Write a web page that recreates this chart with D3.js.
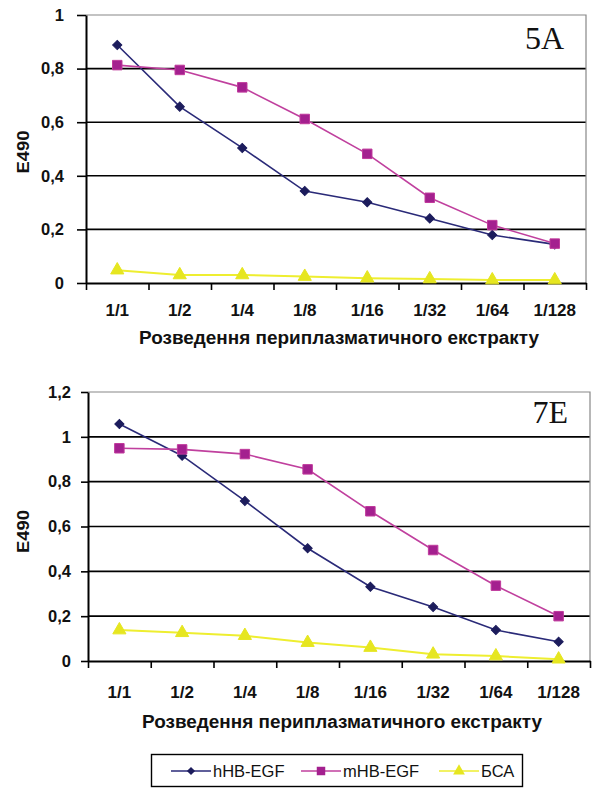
<!DOCTYPE html>
<html lang="uk">
  <head>
    <meta charset="UTF-8">
    <title>E490</title>
    <style>
      body { margin: 0; background: #fff; }
      svg { display: block; }
      text { font-family: "Liberation Sans", Arial, sans-serif; font-weight: bold; }
    </style>
    <script src="https://d3js.org/d3.v7.min.js"></script>
  </head>
  <body>
    <script>
      var categories = ["1/1", "1/2", "1/4", "1/8", "1/16", "1/32", "1/64", "1/128"];

      // panel 5A
      var hA = [0.888, 0.658, 0.504, 0.343, 0.301, 0.241, 0.179, 0.144];
      var mA = [0.813, 0.795, 0.730, 0.612, 0.482, 0.318, 0.216, 0.147];
      var bA = [0.048, 0.030, 0.030, 0.024, 0.018, 0.015, 0.011, 0.011];
      var ticksA = [0, 0.2, 0.4, 0.6, 0.8, 1];

      // panel 7E
      var hE = [1.057, 0.916, 0.714, 0.503, 0.331, 0.241, 0.138, 0.086];
      var mE = [0.949, 0.944, 0.923, 0.855, 0.668, 0.495, 0.336, 0.200];
      var bE = [0.138, 0.126, 0.113, 0.082, 0.060, 0.030, 0.022, 0.008];
      var ticksE = [0, 0.2, 0.4, 0.6, 0.8, 1, 1.2];

      var seriesNames = ["hHB-EGF", "mHB-EGF", "БСА"];
      var lineColors = ["#2a2a78", "#c0409e", "#eeee30"];
      var markColors = ["#1c1c5c", "#a4208f", "#e6e620"];
      // diamond = square turned 45 degrees
      var symbols = [d3.symbolSquare, d3.symbolSquare, d3.symbolTriangle];
      var symRot = [45, 0, 0];
      var symSizes = [42, 90, 75];

      var svg = d3.select("body").append("svg")
        .attr("width", 593)
        .attr("height", 789);

      function fmt(d) {
        return String(+d.toFixed(1)).replace(".", ",");
      }

      function drawChart(opt) {
        var g = svg.append("g").attr("transform", "translate(" + opt.left + "," + opt.top + ")");
        var w = opt.width, h = opt.height;

        var x = d3.scaleBand().domain(categories).range([0, w]);
        var xb = d3.scaleLinear().domain([0, categories.length]).range([0, w]);
        var y = d3.scaleLinear().domain([0, d3.max(opt.ticks)]).range([h, 0]);

        // gridlines
        g.selectAll("line.grid").data(opt.ticks.slice(1, -1)).enter().append("line")
          .attr("x1", 0).attr("x2", w)
          .attr("y1", function (d) { return y(d); })
          .attr("y2", function (d) { return y(d); })
          .attr("stroke", "#000").attr("stroke-width", 1.6);

        // top and right border
        g.append("path")
          .attr("d", "M0," + y(d3.max(opt.ticks)) + "H" + w + "V" + h)
          .attr("fill", "none").attr("stroke", "#888").attr("stroke-width", 1.2);

        // y axis
        var yAxis = d3.axisLeft(y).tickValues(opt.ticks).tickFormat(fmt)
          .tickSize(opt.yTick).tickPadding(opt.yPad).tickSizeOuter(0);
        var ya = g.append("g").call(yAxis);
        ya.select(".domain").attr("stroke-width", 2);
        ya.selectAll(".tick line").attr("stroke-width", 1.6);
        ya.selectAll("text").attr("font-size", 16.5).attr("fill", "#111");

        // x axis: boundary ticks
        var xt = g.append("g").attr("transform", "translate(0," + h + ")")
          .call(d3.axisBottom(xb).tickValues(d3.range(0, categories.length + 1))
            .tickFormat("").tickSize(7).tickSizeOuter(0));
        xt.select(".domain").attr("stroke-width", 2);
        xt.selectAll(".tick line").attr("stroke-width", 1.6);

        // x axis labels
        var xl = g.append("g").attr("transform", "translate(0," + h + ")")
          .call(d3.axisBottom(x).tickSize(0).tickPadding(opt.xPad));
        xl.select(".domain").remove();
        xl.selectAll("text").attr("font-size", 17).attr("fill", "#111");

        // axis titles
        g.append("text")
          .attr("x", w / 2 + 3).attr("y", h + opt.titleDy)
          .attr("text-anchor", "middle").attr("font-size", 18).attr("fill", "#111")
          .attr("textLength", 400).attr("lengthAdjust", "spacingAndGlyphs")
          .text("Розведення периплазматичного екстракту");

        g.append("text")
          .attr("transform", "translate(" + (-opt.left + 29) + "," + (h / 2 + opt.yTitleDy) + ") rotate(-90) scale(1.15,1)")
          .attr("text-anchor", "middle").attr("font-size", 16).attr("fill", "#111")
          .text("E490");

        // panel label
        g.append("text")
          .attr("x", w - 22).attr("y", opt.labelY)
          .attr("text-anchor", "end")
          .style("font-family", "'Liberation Serif', 'Times New Roman', serif")
          .style("font-weight", "normal")
          .attr("font-size", 32).attr("fill", "#111")
          .text(opt.label);

        var line = d3.line()
          .x(function (d, i) { return x(categories[i]) + x.bandwidth() / 2; })
          .y(function (d) { return y(d); });

        opt.series.forEach(function (vals, k) {
          g.append("path").datum(vals)
            .attr("d", line)
            .attr("fill", "none")
            .attr("stroke", lineColors[k])
            .attr("stroke-width", k === 2 ? 2 : 1.6);
          g.selectAll("path.m" + k).data(vals).enter().append("path")
            .attr("class", "m" + k)
            .attr("d", d3.symbol().type(symbols[k]).size(symSizes[k]))
            .attr("transform", function (d, i) {
              return "translate(" + (x(categories[i]) + x.bandwidth() / 2) + "," + y(d) + ") rotate(" + symRot[k] + ")";
            })
            .attr("fill", markColors[k])
            .attr("stroke", k === 1 ? "#c03a9c" : markColors[k])
            .attr("stroke-width", 1);
        });
      }

      drawChart({ left: 86, top: 15, width: 500, height: 268, ticks: ticksA,
        series: [hA, mA, bA], label: "5A", labelY: 34, yTick: 9, yPad: 13,
        xPad: 21, titleDy: 61, yTitleDy: 3 });
      drawChart({ left: 88, top: 392, width: 502, height: 269, ticks: ticksE,
        series: [hE, mE, bE], label: "7E", labelY: 31, yTick: 7, yPad: 10,
        xPad: 25, titleDy: 67, yTitleDy: 5 });

      // legend
      var lg = svg.append("g");
      lg.append("rect")
        .attr("x", 151.5).attr("y", 754.5).attr("width", 371).attr("height", 32)
        .attr("fill", "#fff").attr("stroke", "#000").attr("stroke-width", 1.4);
      var legendX = [191, 321, 459];
      seriesNames.forEach(function (name, k) {
        var cx = legendX[k];
        lg.append("line")
          .attr("x1", cx - 20).attr("x2", cx + 20)
          .attr("y1", 771).attr("y2", 771)
          .attr("stroke", lineColors[k]).attr("stroke-width", 1.6);
        lg.append("path")
          .attr("d", d3.symbol().type(symbols[k]).size(symSizes[k] * 0.8))
          .attr("transform", "translate(" + cx + ",771) rotate(" + symRot[k] + ")")
          .attr("fill", markColors[k]);
        lg.append("text")
          .attr("x", cx + 22).attr("y", 777)
          .attr("font-size", 16.5).attr("fill", "#111")
          .style("font-weight", "normal")
          .text(name);
      });
    </script>
  </body>
</html>
